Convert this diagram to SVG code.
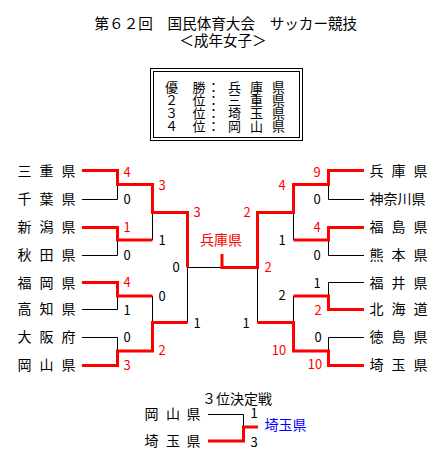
<svg xmlns="http://www.w3.org/2000/svg" width="444" height="460" viewBox="0 0 444 460">
<style>
text{font-family:"Noto Sans CJK JP","Noto Sans CJK SC",sans-serif;fill:#000}
.t{font-size:14.6px}
.st{font-size:14.5px}
.n{font-size:14px}
.bx{font-size:13px}
.s{font-size:13px;text-anchor:middle}
.r{fill:#f00}
.b{fill:#00f}
.bl{stroke:#000;stroke-width:1;fill:none}
.rl{stroke:#f00;stroke-width:3;fill:none}
.box{stroke:#000;stroke-width:1;fill:none}
</style>
<rect width="444" height="460" fill="#fff"/>
<g id="title">
<text class="t" x="94.5" y="29">第６２回　国民体育大会　サッカー競技</text>
<text class="st" x="179.5" y="46">＜成年女子＞</text>
</g>
<g id="results">
<rect class="box" x="150.5" y="68.5" width="152" height="72"/>
<rect class="box" x="153.5" y="71.5" width="146" height="66"/>
<text class="bx"><tspan x="165 178.5 192.5 207 228 241.5 250 263.5 272" y="91.5">優　勝：兵 庫 県</tspan><tspan x="165 178.5 192.5 207 228 241.5 250 263.5 272" y="104.5">２　位：三 重 県</tspan><tspan x="165 178.5 192.5 207 228 241.5 250 263.5 272" y="117.5">３　位：埼 玉 県</tspan><tspan x="165 178.5 192.5 207 228 241.5 250 263.5 272" y="131">４　位：岡 山 県</tspan></text>
</g>
<g id="connectors">
<path class="bl" d="M82,199.5H117.5V184.5 M82,255.5H117.5V240 M82,309.5H117.5V296 M82,337.5H117.5V351 M152.5,212.5V240 M152.5,296V322.5 M187.5,267.5V322.5 M187.5,267.5H222"/>
<path class="bl" d="M364,199.5H328.5V184.5 M364,255.5H328.5V240 M364,282.5H328.5V296 M364,337.5H328.5V351 M293.5,212.5V240 M293.5,296V322.5 M257.5,267.5V322.5"/>
<path class="rl" d="M82,170.5H117.5V184.5H152.5V212.5H187.5V267.5"/>
<path class="rl" d="M82,227.5H117.5V240H152.5"/>
<path class="rl" d="M82,282.5H117.5V296H152.5"/>
<path class="rl" d="M82,365.5H117.5V351H152.5V322.5H187.5"/>
<path class="rl" d="M364,170.5H328.5V184.5H293.5V212.5H257.5V267.5H222V254"/>
<path class="rl" d="M364,227.5H328.5V240H293.5"/>
<path class="rl" d="M364,309.5H328.5V296H293.5"/>
<path class="rl" d="M364,365.5H328.5V351H293.5V322.5H257.5"/>
<path class="bl" d="M208,414.5H243.5V427"/>
<path class="rl" d="M208,441H243.5V427H258"/>
</g>
<g id="left-teams">
<text class="n" x="17.5 31.5 39.5 53.5 61.5" y="175.5">三 重 県</text>
<text class="n" x="17.5 31.5 39.5 53.5 61.5" y="204.3">千 葉 県</text>
<text class="n" x="17.5 31.5 39.5 53.5 61.5" y="232.3">新 潟 県</text>
<text class="n" x="17.5 31.5 39.5 53.5 61.5" y="260">秋 田 県</text>
<text class="n" x="17.5 31.5 39.5 53.5 61.5" y="287.7">福 岡 県</text>
<text class="n" x="17.5 31.5 39.5 53.5 61.5" y="314.3">高 知 県</text>
<text class="n" x="17.5 31.5 39.5 53.5 61.5" y="342.3">大 阪 府</text>
<text class="n" x="17.5 31.5 39.5 53.5 61.5" y="370">岡 山 県</text>
</g>
<g id="right-teams">
<text class="n" x="369.5 383.5 391.5 405.5 413.5" y="175.5">兵 庫 県</text>
<text class="n" x="369.5" y="204.3">神奈川県</text>
<text class="n" x="369.5 383.5 391.5 405.5 413.5" y="232.3">福 島 県</text>
<text class="n" x="369.5 383.5 391.5 405.5 413.5" y="260">熊 本 県</text>
<text class="n" x="369.5 383.5 391.5 405.5 413.5" y="287.7">福 井 県</text>
<text class="n" x="369.5 383.5 391.5 405.5 413.5" y="314.3">北 海 道</text>
<text class="n" x="369.5 383.5 391.5 405.5 413.5" y="342.3">徳 島 県</text>
<text class="n" x="369.5 383.5 391.5 405.5 413.5" y="370">埼 玉 県</text>
</g>
<g id="scores-left">
<text class="s r" x="127" y="177.3">4</text>
<text class="s" x="127" y="203.8">0</text>
<text class="s r" x="127" y="231.8">1</text>
<text class="s" x="127" y="259.8">0</text>
<text class="s r" x="127" y="287">4</text>
<text class="s" x="127" y="314.8">1</text>
<text class="s" x="127" y="341.8">0</text>
<text class="s r" x="127" y="369.8">3</text>
<text class="s r" x="162" y="189.8">3</text>
<text class="s" x="162" y="244.8">1</text>
<text class="s" x="162" y="300.8">0</text>
<text class="s r" x="162" y="354.8">2</text>
<text class="s r" x="197" y="216.8">3</text>
<text class="s" x="197" y="327.8">1</text>
<text class="s" x="176" y="271.8">0</text>
</g>
<g id="scores-right">
<text class="s r" x="317" y="177.3">9</text>
<text class="s" x="317" y="203.8">0</text>
<text class="s r" x="317" y="231.8">4</text>
<text class="s" x="317" y="259.8">0</text>
<text class="s" x="317" y="287.8">1</text>
<text class="s r" x="318" y="314.8">2</text>
<text class="s" x="318" y="341.8">0</text>
<text class="s r" x="315" y="368.8">10</text>
<text class="s r" x="282" y="189.8">4</text>
<text class="s" x="282" y="244.8">1</text>
<text class="s" x="282" y="299.8">2</text>
<text class="s r" x="279" y="354.8">10</text>
<text class="s r" x="247" y="216.8">2</text>
<text class="s" x="246" y="327.8">1</text>
<text class="s r" x="268" y="271.8">2</text>
</g>
<g id="champion">
<text class="n r" x="200" y="245">兵庫県</text>
</g>
<g id="third-place">
<text class="n" x="202" y="404">３位決定戦</text>
<text class="n" x="144.5 158.5 166 180 186.5" y="419">岡 山 県</text>
<text class="n" x="144.5 158.5 166 180 186.5" y="446">埼 玉 県</text>
<text class="s" x="254" y="417.8">1</text>
<text class="s" x="254" y="446.8">3</text>
<text class="n b" x="264.5" y="430">埼玉県</text>
</g>
</svg>
